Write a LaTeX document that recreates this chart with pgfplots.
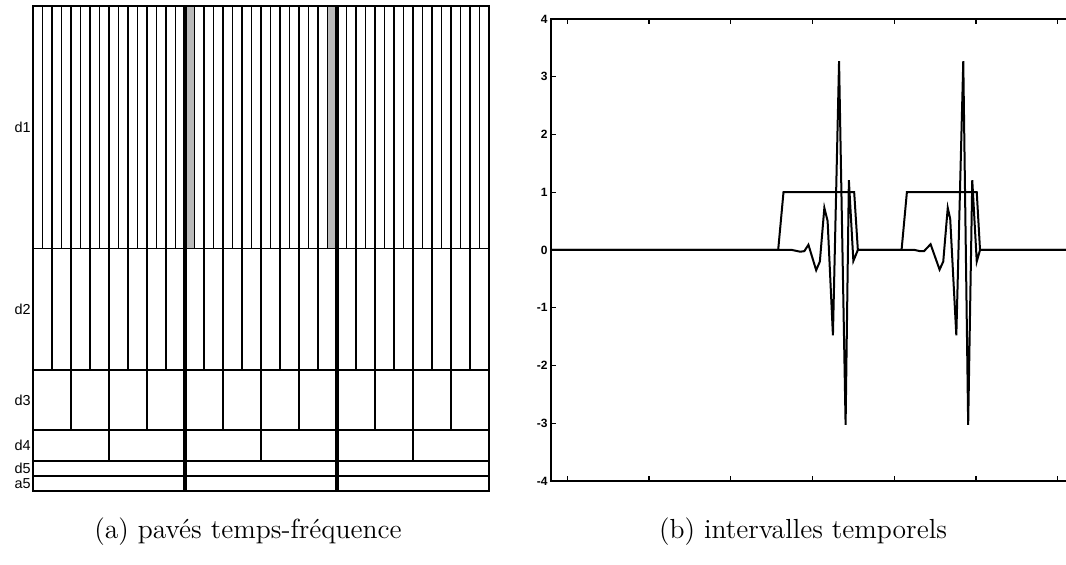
\documentclass[border=0pt]{standalone}
\usepackage{pgfplots}
\pgfplotsset{compat=1.18}
\usepackage{fontspec}
\newfontfamily\hv{Liberation Sans}
\begin{document}
\begin{tikzpicture}[x=1pt,y=1pt]
\path[use as bounding box] (0,0) rectangle (533,282.5);
% ---------------- (a) time-frequency tiling ----------------
\begin{axis}[
  at={(16.5pt,279.5pt)}, anchor=north west,
  scale only axis, width=228pt, height=242.5pt,
  xmin=0, xmax=48, ymin=0, ymax=32,
  xtick=\empty,
  ytick={0.5,1.5,3,6,12,24},
  yticklabels={a5,d5,d4,d3,d2,d1},
  major tick length=0pt,
  yticklabel style={font=\hv\fontsize{7.2}{8}\selectfont, inner sep=1pt},
  axis line style={line width=1pt},
  clip=false,
]
% d1 : 48 cells
\addplot[ybar interval, fill=white, draw=black, line width=0.85pt] coordinates {
(0,32)(1,32)(2,32)(3,32)(4,32)(5,32)(6,32)(7,32)(8,32)(9,32)(10,32)(11,32)(12,32)
(13,32)(14,32)(15,32)(16,32)(17,32)(18,32)(19,32)(20,32)(21,32)(22,32)(23,32)(24,32)
(25,32)(26,32)(27,32)(28,32)(29,32)(30,32)(31,32)(32,32)(33,32)(34,32)(35,32)(36,32)
(37,32)(38,32)(39,32)(40,32)(41,32)(42,32)(43,32)(44,32)(45,32)(46,32)(47,32)(48,32)};
% shaded cells of d1
\addplot[fill=gray!55, draw=black, line width=0.85pt] coordinates {(16,16)(17,16)(17,32)(16,32)} --cycle;
\addplot[fill=gray!55, draw=black, line width=0.85pt] coordinates {(31,16)(32,16)(32,32)(31,32)} --cycle;
% d2 : 24 cells
\addplot[ybar interval, fill=white, draw=black, line width=0.85pt] coordinates {
(0,16)(2,16)(4,16)(6,16)(8,16)(10,16)(12,16)(14,16)(16,16)(18,16)(20,16)(22,16)(24,16)
(26,16)(28,16)(30,16)(32,16)(34,16)(36,16)(38,16)(40,16)(42,16)(44,16)(46,16)(48,16)};
% d3 : 12 cells
\addplot[ybar interval, fill=white, draw=black, line width=0.85pt] coordinates {
(0,8)(4,8)(8,8)(12,8)(16,8)(20,8)(24,8)(28,8)(32,8)(36,8)(40,8)(44,8)(48,8)};
% d4 : 6 cells
\addplot[ybar interval, fill=white, draw=black, line width=1pt] coordinates {
(0,4)(8,4)(16,4)(24,4)(32,4)(40,4)(48,4)};
% d5 : 3 cells
\addplot[ybar interval, fill=white, draw=black, line width=1.1pt] coordinates {
(0,2)(16,2)(32,2)(48,2)};
% a5 : 3 cells
\addplot[ybar interval, fill=white, draw=black, line width=1.1pt] coordinates {
(0,1)(16,1)(32,1)(48,1)};
% thick separators
\addplot[black, line width=1.6pt] coordinates {(16,0)(16,32)};
\addplot[black, line width=1.6pt] coordinates {(32,0)(32,32)};
\end{axis}
% ---------------- (b) signal ----------------
\begin{axis}[
  at={(275.5pt,273pt)}, anchor=north west,
  scale only axis, width=261.5pt, height=231pt,
  xmin=0, xmax=128, ymin=-4, ymax=4,
  xtick={4,24,44,64,84,104,124}, xticklabels={},
  ytick={-4,-3,-2,-1,0,1,2,3,4},
  yticklabels={-4,-3,-2,-1,0,1,2,3,4},
  xtick pos=both, ytick pos=both, yticklabel pos=left,
  tick align=inside, major tick length=2.5pt,
  tick style={black, line width=0.6pt},
  yticklabel style={font=\hv\bfseries\fontsize{6}{7}\selectfont, inner sep=1.5pt},
  axis line style={line width=0.9pt},
]
% interval indicator
\addplot[black, line width=1pt] coordinates {
(0,0)(55.6,0)(56.9,1)(74.2,1)(75.1,0)(85.8,0)(87.1,1)(104.2,1)(105,0)(128,0)};
% signal
\addplot[black, line width=1pt] coordinates {
(0,0)(59,0)(61,-0.03)(62,-0.02)(63,0.09)(64.9,-0.35)(65.8,-0.2)(66.9,0.73)(67.7,0.5)
(69,-1.48)(70.5,3.27)(72.1,-3.03)(72.9,1.21)(74,-0.19)(75.1,0)
(89,0)(90.3,-0.02)(91.3,-0.02)(92.9,0.1)(95.1,-0.34)(96,-0.2)(97.1,0.73)(97.7,0.54)
(99.2,-1.48)(100.9,3.27)(102.1,-3.03)(103.1,1.21)(104.2,-0.2)(105,0)(128,0)};
\end{axis}
% captions
\node[font=\fontsize{13.8}{16}\selectfont] at (124,16.5) {(a) pavés temps-fréquence};
\node[font=\fontsize{13.8}{16}\selectfont] at (401.5,16.5) {(b) intervalles temporels};
\end{tikzpicture}
\end{document}
